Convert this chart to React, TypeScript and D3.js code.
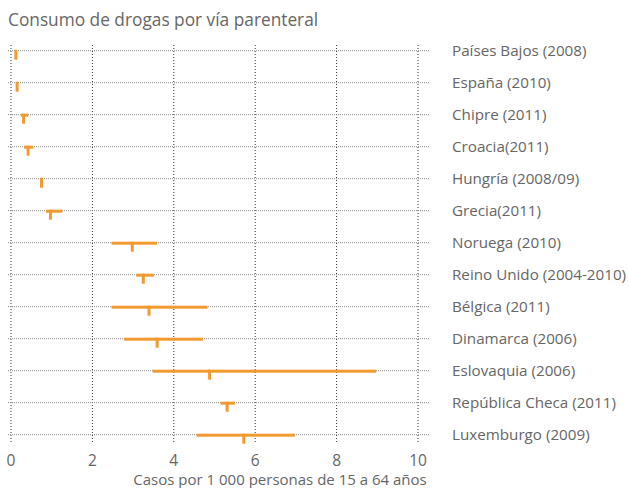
import React from "react";
import * as d3 from "d3";

const countries = [
  "Países Bajos (2008)",
  "España (2010)",
  "Chipre (2011)",
  "Croacia(2011)",
  "Hungría (2008/09)",
  "Grecia(2011)",
  "Noruega (2010)",
  "Reino Unido (2004-2010)",
  "Bélgica (2011)",
  "Dinamarca (2006)",
  "Eslovaquia (2006)",
  "República Checa (2011)",
  "Luxemburgo (2009)",
];
const central = [0.12, 0.15, 0.31, 0.42, 0.75, 0.97, 2.98, 3.25, 3.39, 3.59, 4.88, 5.31, 5.72];
const low: (number | null)[] = [null, null, 0.24, 0.32, null, 0.86, 2.47, 3.08, 2.47, 2.78, 3.48, 5.15, 4.56];
const high: (number | null)[] = [null, null, 0.42, 0.55, null, 1.26, 3.59, 3.51, 4.83, 4.72, 8.97, 5.5, 6.97];
const xTicks = [0, 2, 4, 6, 8, 10];
const title = "Consumo de drogas por vía parenteral";
const xTitle = "Casos por 1 000 personas de 15 a 64 años";

const W = 629;
const H = 488;
const ORANGE = "#f29a2e";
const TEXT = "#666";
const FONT = "'Open Sans', Roboto, sans-serif";

export default function App() {
  const x = d3.scaleLinear().domain([0, 10]).range([11, 418]);
  const y = d3
    .scalePoint<string>()
    .domain(countries)
    .range([50.7, 434.7]);

  return (
    <svg
      width={W}
      height={H}
      style={{ position: "absolute", left: 0, top: 0, background: "#fff" }}
      fontFamily={FONT}
    >
      <text x={8} y={26} fontSize={17.3} fill={TEXT}>
        {title}
      </text>
      {/* vertical gridlines */}
      {xTicks.map((t) => (
        <line
          key={"v" + t}
          x1={x(t)}
          x2={x(t)}
          y1={45}
          y2={444}
          stroke="#333"
          strokeWidth={1}
          strokeDasharray="1,2"
        />
      ))}
      {/* horizontal gridlines */}
      {countries.map((c) => (
        <line
          key={"h" + c}
          x1={x(0) - 3}
          x2={430}
          y1={y(c)!}
          y2={y(c)!}
          stroke="#888"
          strokeWidth={1}
          strokeDasharray="1,1"
        />
      ))}
      {/* ranges */}
      {countries.map((c, i) =>
        low[i] != null && high[i] != null ? (
          <rect
            key={"r" + c}
            x={x(low[i] as number)}
            y={y(c)! - 1}
            width={x(high[i] as number) - x(low[i] as number)}
            height={3}
            fill={ORANGE}
          />
        ) : null
      )}
      {/* central ticks */}
      {countries.map((c, i) => (
        <rect
          key={"c" + c}
          x={x(central[i]) - 1.5}
          y={y(c)! - 1}
          width={3}
          height={10}
          fill={ORANGE}
        />
      ))}
      {/* country labels */}
      {countries.map((c) => (
        <text
          key={"l" + c}
          x={452}
          y={y(c)! + 5}
          fontSize={15.2}
          fill={TEXT}
        >
          {c}
        </text>
      ))}
      {/* x tick labels */}
      {xTicks.map((t) => (
        <text
          key={"t" + t}
          x={x(t)}
          y={466}
          fontSize={15.5}
          fill={TEXT}
          textAnchor="middle"
        >
          {t}
        </text>
      ))}
      <text x={280} y={485} fontSize={15} fill={TEXT} textAnchor="middle">
        {xTitle}
      </text>
    </svg>
  );
}
